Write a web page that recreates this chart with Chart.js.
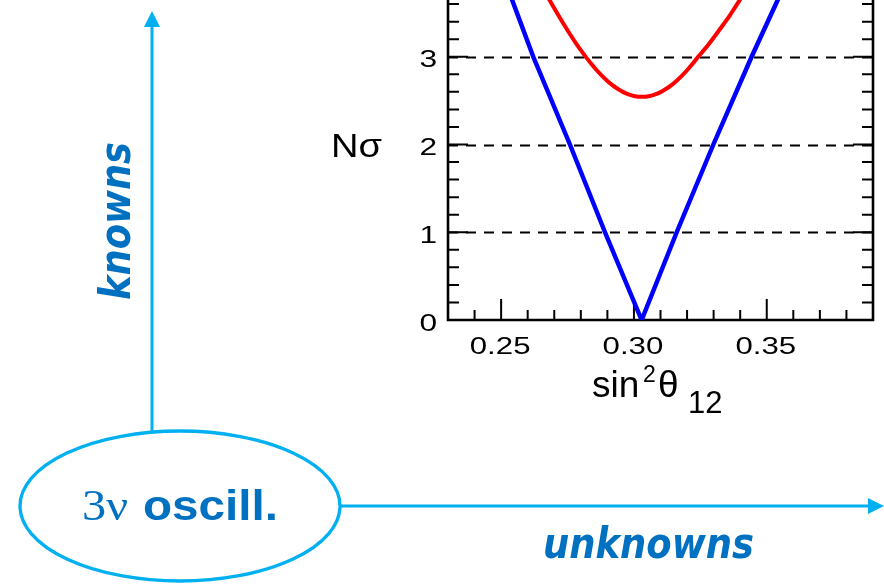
<!DOCTYPE html>
<html>
<head>
<meta charset="utf-8">
<script src="https://cdn.jsdelivr.net/npm/chart.js@4/dist/chart.umd.min.js"></script>
<style>
  html, body { margin: 0; padding: 0; background: #fff; width: 884px; height: 584px; overflow: hidden; }
  #wrap { position: relative; width: 884px; height: 584px; overflow: hidden; }
  #plot { position: absolute; left: 0; top: -31px; }
  #overlay { position: absolute; left: 0; top: 0; pointer-events: none; }
</style>
</head>
<body>
<div id="wrap">
  <canvas id="plot" width="884" height="615"></canvas>
  <svg id="overlay" width="884" height="584" xmlns="http://www.w3.org/2000/svg">
    <!-- knowns arrow (vertical) -->
    <line x1="152" y1="431" x2="152" y2="26" stroke="#00b0f0" stroke-width="3"/>
    <polygon points="152,11 144,27 160,27" fill="#00b0f0"/>
    <!-- unknowns arrow (horizontal) -->
    <line x1="340" y1="506" x2="869" y2="506" stroke="#00b0f0" stroke-width="3"/>
    <polygon points="884,506 868,498 868,514" fill="#00b0f0"/>
    <!-- 3ν oscillation bubble -->
    <ellipse cx="180" cy="506" rx="160" ry="75" fill="#fff" stroke="#00b0f0" stroke-width="3.3"/>
    <text x="82" y="520" font-family="'Liberation Serif', serif" font-size="44" fill="#0070c0" textLength="46" lengthAdjust="spacingAndGlyphs">3ν</text>
    <text x="143" y="520" font-family="'Liberation Sans', Arial, sans-serif" font-weight="bold" font-size="42" fill="#0070c0" textLength="135" lengthAdjust="spacingAndGlyphs">oscill.</text>
    <text transform="translate(130,300) rotate(-90)" x="0" y="0" font-family="'DejaVu Sans', sans-serif" font-weight="bold" font-style="italic" font-size="42" fill="#0070c0" textLength="158" lengthAdjust="spacingAndGlyphs">knowns</text>
    <text x="543" y="558" font-family="'DejaVu Sans', sans-serif" font-weight="bold" font-style="italic" font-size="42" fill="#0070c0" textLength="211" lengthAdjust="spacingAndGlyphs">unknowns</text>
    <!-- axis titles -->
    <text x="331" y="157" font-family="'Liberation Sans', Arial, sans-serif" font-size="34" fill="#000" textLength="51" lengthAdjust="spacingAndGlyphs">Nσ</text>
    <text x="592" y="397" font-family="'Liberation Sans', Arial, sans-serif" font-size="37" fill="#000">sin</text>
    <text x="643" y="382" font-family="'Liberation Sans', Arial, sans-serif" font-size="23" fill="#000">2</text>
    <text x="658" y="397" font-family="'Liberation Sans', Arial, sans-serif" font-size="37" fill="#000">θ</text>
    <text x="688" y="413" font-family="'Liberation Sans', Arial, sans-serif" font-size="31" fill="#000">12</text>
  </svg>
</div>
<script>
// sin^2(theta12) sensitivity curves, number of sigma vs parameter value
const blueX = [0.2498, 0.2621, 0.2759, 0.2891, 0.3029, 0.3161, 0.3299, 0.3443, 0.3595];
const blueY = [4.00,   3.00,   2.00,   1.00,   0.00,   1.00,   2.00,   3.00,   4.00];

const redX = [0.261, 0.264, 0.266, 0.268, 0.270, 0.272, 0.274, 0.276, 0.278, 0.280, 0.282,
              0.284, 0.286, 0.288, 0.290, 0.292, 0.294, 0.296, 0.298, 0.300, 0.303, 0.306,
              0.308, 0.310, 0.312, 0.314, 0.316, 0.318, 0.320, 0.322, 0.324, 0.326, 0.328,
              0.330, 0.332, 0.334, 0.336, 0.338, 0.340, 0.342, 0.344, 0.346, 0.348];
const redY = [4.054, 3.882, 3.769, 3.659, 3.553, 3.450, 3.350, 3.254, 3.162, 3.075, 2.993,
              2.917, 2.846, 2.782, 2.724, 2.674, 2.632, 2.597, 2.571, 2.553, 2.543, 2.553,
              2.571, 2.597, 2.632, 2.674, 2.724, 2.782, 2.846, 2.917, 2.993, 3.064, 3.138,
              3.217, 3.299, 3.382, 3.467, 3.560, 3.654, 3.750, 3.847, 3.954, 4.060];

const xMajorTicks = [0.25, 0.30, 0.35];
const xMajorLabels = ['0.25', '0.30', '0.35'];
const yMajorTicks = [0, 1, 2, 3];
const yMajorLabels = ['0', '1', '2', '3'];
const yDashedLevels = [1, 2, 3, 4];

const X_MIN = 0.23, X_MAX = 0.39, Y_MIN = 0, Y_MAX = 4;

const toPoints = (xs, ys) => xs.map((x, i) => ({ x: x, y: ys[i] }));

// Frame with inward ticks, dashed sigma levels and widened tick labels
const framePlugin = {
  id: 'frame',
  beforeDatasetsDraw(chart) {
    const ctx = chart.ctx;
    const xs = chart.scales.x, ys = chart.scales.y;
    const a = chart.chartArea;
    ctx.save();

    // dashed horizontal levels
    ctx.strokeStyle = '#000';
    ctx.lineWidth = 1.8;
    ctx.setLineDash([10, 8]);
    yDashedLevels.forEach(v => {
      const py = Math.round(ys.getPixelForValue(v)) + 0.5;
      ctx.beginPath();
      ctx.moveTo(a.left, py);
      ctx.lineTo(a.right, py);
      ctx.stroke();
    });
    ctx.setLineDash([]);

    // left and right y-axis ticks
    ctx.lineWidth = 2;
    for (let i = 0; i <= 20; i++) {
      const v = i * 0.2;
      const major = i % 5 === 0;
      const len = major ? 20 : 11;
      const py = ys.getPixelForValue(v);
      ctx.beginPath();
      ctx.moveTo(a.left, py); ctx.lineTo(a.left + len, py);
      ctx.moveTo(a.right, py); ctx.lineTo(a.right - len, py);
      ctx.stroke();
    }
    // bottom x-axis ticks
    for (let i = 24; i <= 38; i++) {
      const v = i / 100;
      const major = i % 5 === 0;
      const len = major ? 21 : 10;
      const px = xs.getPixelForValue(v);
      ctx.beginPath();
      ctx.moveTo(px, a.bottom); ctx.lineTo(px, a.bottom - len);
      ctx.stroke();
    }

    // frame: left, bottom, right
    ctx.lineWidth = 2.6;
    ctx.beginPath();
    ctx.moveTo(a.left, a.top - 2);
    ctx.lineTo(a.left, a.bottom);
    ctx.lineTo(a.right, a.bottom);
    ctx.lineTo(a.right, a.top - 2);
    ctx.stroke();

    // tick labels, horizontally widened
    ctx.fillStyle = '#000';
    ctx.font = '24px "Liberation Sans", Arial, sans-serif';
    ctx.textBaseline = 'alphabetic';
    ctx.textAlign = 'right';
    yMajorTicks.forEach((v, i) => {
      const py = ys.getPixelForValue(v);
      ctx.save();
      ctx.translate(a.left - 11, py + 10.5);
      ctx.scale(1.32, 1);
      ctx.fillText(yMajorLabels[i], 0, 0);
      ctx.restore();
    });
    ctx.textAlign = 'center';
    xMajorTicks.forEach((v, i) => {
      const px = xs.getPixelForValue(v);
      ctx.save();
      ctx.translate(px - 1, a.bottom + 34);
      ctx.scale(1.3, 1);
      ctx.fillText(xMajorLabels[i], 0, 0);
      ctx.restore();
    });
    ctx.restore();
  }
};

new Chart(document.getElementById('plot'), {
  type: 'line',
  data: {
    datasets: [
      {
        label: 'red',
        data: toPoints(redX, redY),
        borderColor: '#ff0000',
        borderWidth: 4,
        pointRadius: 0,
        cubicInterpolationMode: 'monotone',
        fill: false
      },
      {
        label: 'blue',
        data: toPoints(blueX, blueY),
        borderColor: '#0000ff',
        borderWidth: 4.5,
        pointRadius: 0,
        tension: 0,
        fill: false
      }
    ]
  },
  options: {
    responsive: false,
    animation: false,
    devicePixelRatio: 1,
    layout: { padding: { left: 448, right: 11, top: 0, bottom: 264 } },
    scales: {
      x: { type: 'linear', min: X_MIN, max: X_MAX, display: false },
      y: { type: 'linear', min: Y_MIN, max: Y_MAX, display: false }
    },
    plugins: { legend: { display: false }, tooltip: { enabled: false } },
    events: []
  },
  plugins: [framePlugin]
});
</script>
</body>
</html>
